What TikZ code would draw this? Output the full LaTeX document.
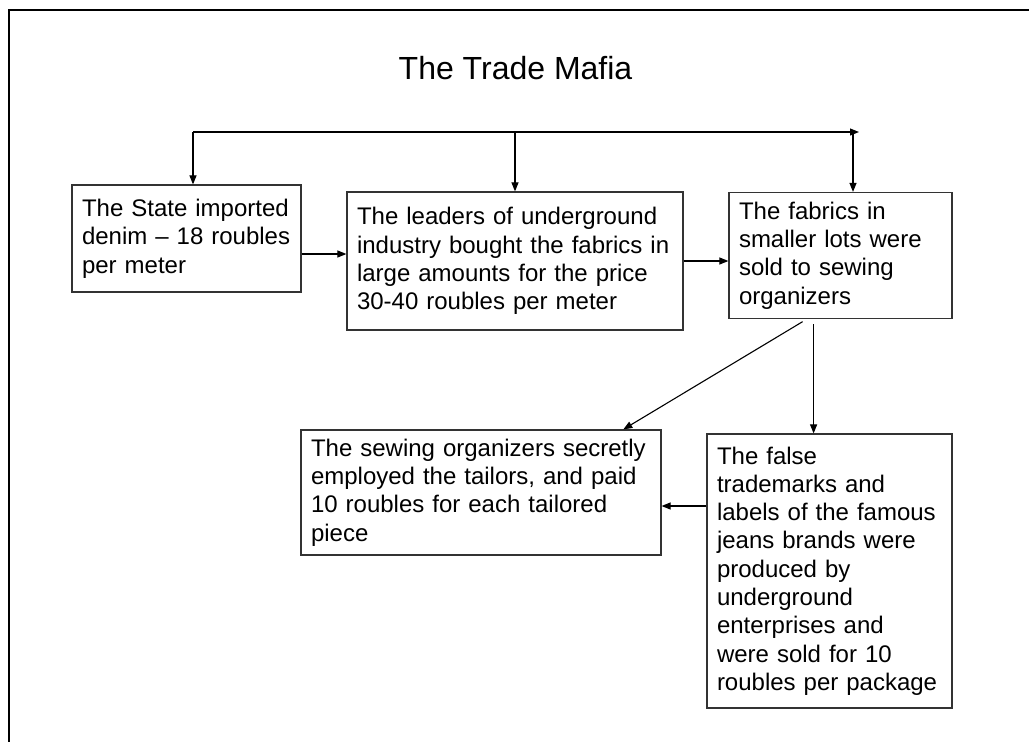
\documentclass[tikz,border=0pt]{standalone}
\usepackage{fontspec}
\setmainfont{Liberation Sans}
\usetikzlibrary{arrows.meta,calc}
\tikzset{
  box/.style={draw=black!80, line width=1.2pt, align=left, inner xsep=10pt, inner ysep=0pt,
    font=\fontsize{24}{28.3}\selectfont},
  arr/.style={line width=1.1pt, -{Triangle[length=9pt,width=7pt]}},
}
\begin{document}
\begin{tikzpicture}[x=1pt,y=-1pt]
\useasboundingbox (0,0) rectangle (1029,742);
% frame
\draw[line width=2pt] (9,742) -- (9,10) -- (1029,10);
\node[font=\fontsize{32}{38}\selectfont, anchor=base] (title) at (515.5,79) {The Trade Mafia};

% boxes
\node[box, text width=209pt, minimum height=107pt] (state) at (186.5,238.5)
  {The State imported\\denim -- 18 roubles\\per meter};
\node[box, text width=316pt, minimum height=138pt] (leaders) at (515,261)
  {The leaders of underground\\industry bought the fabrics in\\large amounts for the price\\30-40 roubles per meter};
\node[box, text width=203pt, minimum height=126pt] (lots) at (840.5,255.5)
  {The fabrics in\\smaller lots were\\sold to sewing\\organizers};
\node[box, text width=340pt, minimum height=125pt] (sewing) at (481,492.5)
  {The sewing organizers secretly\\employed the tailors, and paid\\10 roubles for each tailored\\piece};
\node[box, text width=225pt, minimum height=274pt] (labels) at (829.5,571)
  {The false\\trademarks and\\labels of the famous\\jeans brands were\\produced by\\underground\\enterprises and\\were sold for 10\\roubles per package};

% top line
\coordinate (busL) at (193,132);
\coordinate (busR) at (859,132);
\coordinate (busC) at (853,132);
\draw[arr] (busL) -- (busR);
\draw[arr] (busL) -- (busL |- state.north);
\draw[arr] (leaders.north |- busL) -- (leaders.north);
\draw[arr] (busC) -- (busC |- lots.north);

% chain
\coordinate (lvlA) at (0,254);
\draw[arr] (state.east |- lvlA) -- (leaders.west |- lvlA);
\draw[arr] (leaders.east) -- (leaders.east -| lots.west);
\coordinate (outA) at ($(lots.south west)!0.35!(lots.south east)$);
\coordinate (outB) at ($(lots.south west)!0.38!(lots.south east)$);
\draw[arr, shorten <=5pt] (outA) -- ($(sewing.north west)!0.894!(sewing.north east)$);
\draw[arr, shorten <=5pt] (outB) -- (outB |- labels.north);
\coordinate (lvlB) at (0,506);
\draw[arr] (labels.west |- lvlB) -- (sewing.east |- lvlB);
\end{tikzpicture}
\end{document}
